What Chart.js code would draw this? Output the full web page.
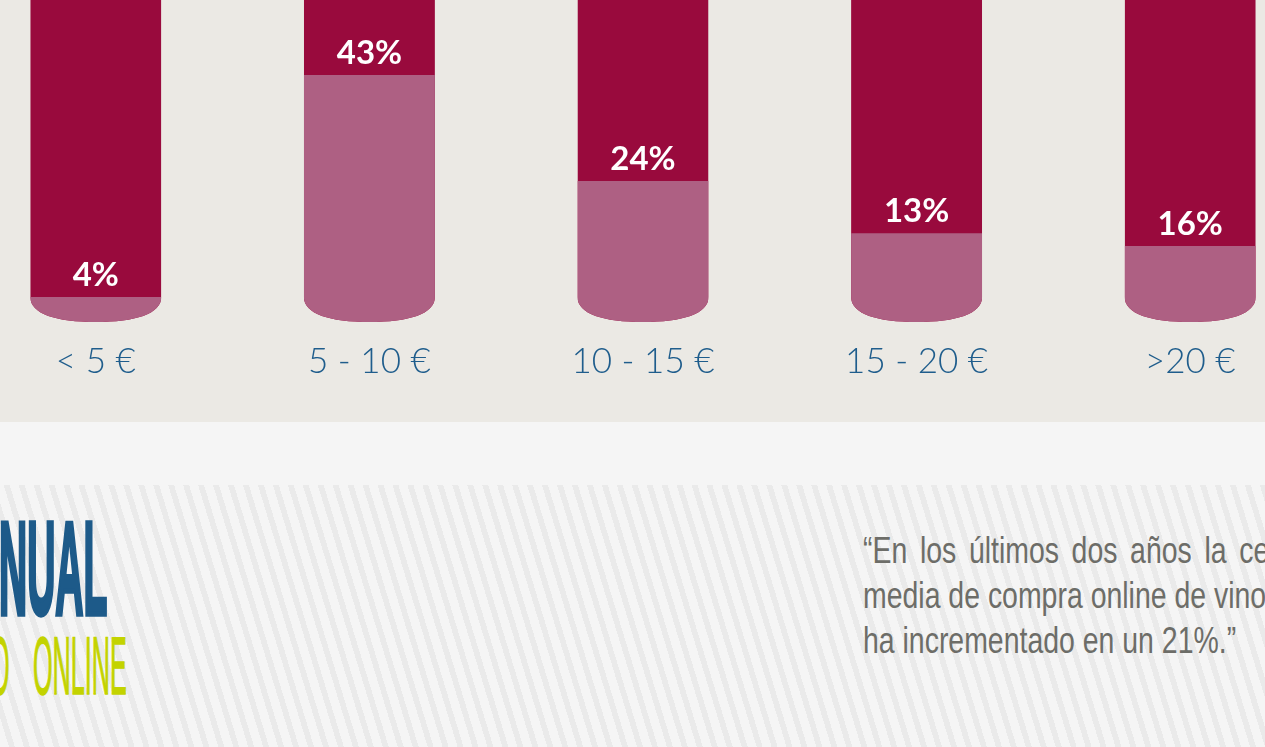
<!DOCTYPE html>
<html>
<head>
<meta charset="utf-8">
<script src="https://cdn.jsdelivr.net/npm/chart.js@4/dist/chart.umd.min.js"></script>
<style>
    html, body { margin: 0; padding: 0; }
    body { width: 1265px; height: 747px; overflow: hidden; background: #f5f5f5; position: relative; }
    #chartBox { position: relative; height: 422px; background: #ebe9e4; overflow: hidden; }
    #chartBox canvas { position: absolute; left: -41px; top: 0; }
    #band { height: 63px; background: #f5f5f5; }
    #stripes {
        position: relative; height: 262px; overflow: hidden;
        background: repeating-linear-gradient(73deg, #f5f5f5 0px, #f5f5f5 8.6px, #eaeaea 8.6px, #eaeaea 14.3px);
    }
    .t1 {
        position: absolute; left: -1px; top: 17px; white-space: nowrap;
        font-family: "Liberation Sans", sans-serif; font-weight: bold;
        font-size: 100px; line-height: 1; color: #1d5a89;
        transform: scale(0.39, 1.32); transform-origin: 0 0;
        -webkit-text-stroke: 4px #1d5a89;
    }
    .t2 {
        position: absolute; left: -10px; top: 140px; white-space: nowrap;
        font-family: "Liberation Sans", sans-serif; font-weight: normal;
        font-size: 60px; line-height: 1; color: #c3d300; word-spacing: 39px;
        transform: scale(0.42, 1.37); transform-origin: 0 0;
        -webkit-text-stroke: 1px #c3d300;
    }
    .quote {
        position: absolute; left: 863px; top: 43px;
        font-family: "Liberation Sans", sans-serif;
        font-size: 36px; line-height: 45px; color: #6d6d68; white-space: nowrap;
        transform: scaleX(0.79); transform-origin: 0 0;
    }
    .quote .l1 { word-spacing: 6px; }
</style>
</head>
<body>
<div id="chartBox">
    <canvas id="bottleChart" width="1368" height="422"></canvas>
</div>
<div id="band"></div>
<div id="stripes">
    <div class="t1">NUAL</div>
    <div class="t2">O ONLINE</div>
    <div class="quote">
        <div class="l1">“En los últimos dos años la cesta</div>
        <div>media de compra online de vino</div>
        <div>ha incrementado en un 21%.”</div>
    </div>
</div>

<script>
// Bottle chart data
const categories = ['< 5 €', '5 - 10 €', '10 - 15 €', '15 - 20 €', '>20 €'];
const shares = [4, 43, 24, 13, 16];                // printed percentage
const fillLevel = [7.8, 76.7, 43.8, 27.6, 23.6];   // wine level, % of visible bottle
const bottleLevel = [100, 100, 100, 100, 100];

const wineDark = '#990a3d';
const wineLight = '#ae6083';

// Clip bars to a bottle shape (rounded punt at the bottom)
const bottlePlugin = {
    id: 'bottle',
    beforeDatasetsDraw(chart) {
        const ctx = chart.ctx;
        const meta = chart.getDatasetMeta(1);
        const top = chart.chartArea.top;
        ctx.save();
        ctx.beginPath();
        meta.data.forEach(bar => {
            const left = bar.x - bar.width / 2;
            const right = bar.x + bar.width / 2;
            const bottom = bar.base;
            const w = bar.width;
            ctx.moveTo(left, top);
            ctx.lineTo(left, bottom - 25);
            ctx.bezierCurveTo(left, bottom - 8, left + w * 0.2, bottom, bar.x, bottom);
            ctx.bezierCurveTo(right - w * 0.2, bottom, right, bottom - 8, right, bottom - 25);
            ctx.lineTo(right, top);
            ctx.closePath();
        });
        ctx.clip();
    },
    afterDatasetsDraw(chart) {
        const ctx = chart.ctx;
        ctx.restore();
        // Percent labels above the wine level
        const meta = chart.getDatasetMeta(0);
        ctx.save();
        ctx.fillStyle = '#ffffff';
        ctx.font = 'bold 33px Lato, sans-serif';
        ctx.textAlign = 'center';
        ctx.textBaseline = 'middle';
        meta.data.forEach((bar, i) => {
            ctx.fillText(shares[i] + '%', bar.x, bar.y - 22);
        });
        ctx.restore();
    }
};

const canvas = document.getElementById('bottleChart');
const ctx = canvas.getContext('2d');

new Chart(ctx, {
    type: 'bar',
    data: {
        labels: categories,
        datasets: [{
            label: 'Nivel',
            data: fillLevel,
            backgroundColor: wineLight,
            borderWidth: 0,
            grouped: false,
            order: 0
        }, {
            label: 'Botella',
            data: bottleLevel,
            backgroundColor: wineDark,
            borderWidth: 0,
            grouped: false,
            order: 1
        }]
    },
    options: {
        responsive: false,
        animation: false,
        devicePixelRatio: 1,
        barPercentage: 0.479,
        categoryPercentage: 1,
        layout: {
            padding: { top: 0, bottom: 20, left: 0, right: 0 }
        },
        plugins: {
            legend: { display: false },
            tooltip: { enabled: false }
        },
        scales: {
            x: {
                grid: { display: false, drawTicks: false },
                border: { display: false },
                ticks: {
                    color: '#1f5d8c',
                    padding: 19,
                    font: { family: 'Lato', weight: 300, size: 35 }
                }
            },
            y: {
                display: false,
                min: 0,
                max: 100
            }
        }
    },
    plugins: [bottlePlugin]
});
</script>
</body>
</html>
